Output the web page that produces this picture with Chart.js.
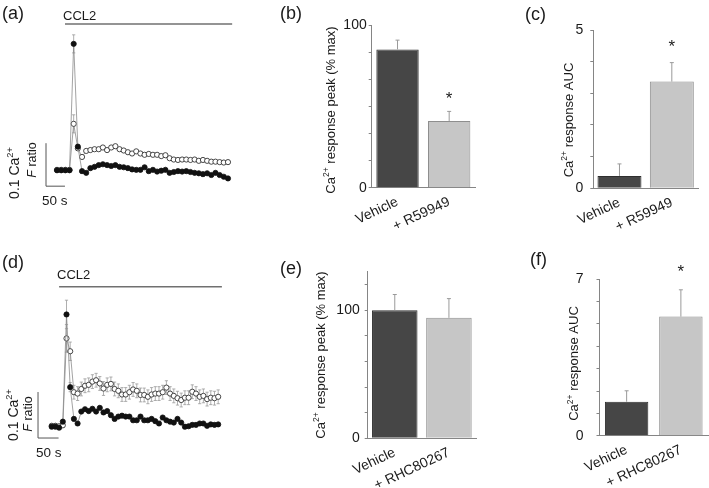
<!DOCTYPE html>
<html>
<head>
<meta charset="utf-8">
<script src="https://cdn.jsdelivr.net/npm/chart.js@4.4.1/dist/chart.umd.min.js"></script>
<style>
  body { margin: 0; background: #fff; width: 709px; height: 488px; position: relative; overflow: hidden; }
  canvas { position: absolute; }
</style>
</head>
<body>
<canvas id="pa" width="240" height="215" style="left:0px;top:0px"></canvas>
<canvas id="pb" width="200" height="240" style="left:280px;top:0px"></canvas>
<canvas id="pc" width="229" height="240" style="left:480px;top:0px"></canvas>
<canvas id="pd" width="240" height="248" style="left:0px;top:240px"></canvas>
<canvas id="pe" width="200" height="248" style="left:280px;top:240px"></canvas>
<canvas id="pf" width="229" height="248" style="left:480px;top:240px"></canvas>
<script>
const FONT = '"Liberation Sans", Arial, Helvetica, sans-serif';
Chart.defaults.font.family = FONT;

// ---- (a) Ca2+ trace, vehicle (filled) vs R59949 (open), F ratio change
const aStep = 11; // s per sample
const aVehicle = [0.004, 0.004, 0.004, 0.004, 0.298, 0.059, 0.002, -0.002, 0.009, 0.012,
  0.016, 0.018, 0.016, 0.014, 0.016, 0.012, 0.011, 0.009, 0.006, 0.005,
  0.005, 0.011, 0.002, 0.005, 0.001, 0.003, 0.005, -0.002, 0.000, 0.002,
  0.001, 0.002, 0.000, -0.002, -0.003, -0.005, -0.003, -0.007, -0.002, -0.007,
  -0.011, -0.015];
const aVehicleErr = [0.002, 0.002, 0.002, 0.002, 0.021, 0.005, 0.002, 0.002, 0.002, 0.002,
  0.002, 0.002, 0.002, 0.002, 0.002, 0.002, 0.002, 0.002, 0.002, 0.002,
  0.002, 0.002, 0.002, 0.002, 0.002, 0.002, 0.002, 0.002, 0.002, 0.002,
  0.002, 0.002, 0.002, 0.002, 0.002, 0.002, 0.002, 0.002, 0.002, 0.002,
  0.002, 0.002];
const aDrug = [0.005, 0.005, 0.005, 0.005, 0.112, 0.055, 0.035, 0.049, 0.051, 0.053,
  0.053, 0.057, 0.051, 0.057, 0.060, 0.053, 0.050, 0.046, 0.043, 0.048,
  0.043, 0.040, 0.042, 0.040, 0.040, 0.037, 0.039, 0.032, 0.029, 0.028,
  0.029, 0.029, 0.028, 0.029, 0.026, 0.028, 0.026, 0.024, 0.024, 0.023,
  0.022, 0.023];
const aDrugErr = [0.003, 0.003, 0.003, 0.003, 0.021, 0.005, 0.003, 0.003, 0.003, 0.003,
  0.003, 0.003, 0.003, 0.003, 0.003, 0.003, 0.003, 0.003, 0.003, 0.003,
  0.003, 0.003, 0.003, 0.003, 0.003, 0.003, 0.003, 0.003, 0.003, 0.003,
  0.003, 0.003, 0.003, 0.003, 0.003, 0.003, 0.003, 0.003, 0.003, 0.003,
  0.003, 0.003];

// ---- (d) Ca2+ trace, vehicle (filled) vs RHC80267 (open)
const dStep = 9;
const dVehicle = [0.000, 0.000, -0.002, 0.011, 0.244, 0.086, 0.017, 0.007, 0.033, 0.038,
  0.034, 0.039, 0.033, 0.041, 0.031, 0.034, 0.025, 0.017, 0.022, 0.024,
  0.022, 0.022, 0.014, 0.014, 0.022, 0.014, 0.014, 0.017, 0.012, 0.007,
  0.020, 0.014, 0.011, 0.009, 0.017, 0.009, 0.000, 0.001, 0.004, 0.004,
  0.007, 0.007, 0.002, 0.005, 0.004, 0.005];
const dVehicleErr = [0.004, 0.004, 0.004, 0.004, 0.031, 0.010, 0.004, 0.004, 0.004, 0.004,
  0.004, 0.004, 0.004, 0.004, 0.004, 0.004, 0.004, 0.004, 0.004, 0.004,
  0.004, 0.004, 0.004, 0.004, 0.004, 0.004, 0.004, 0.004, 0.004, 0.004,
  0.004, 0.004, 0.004, 0.004, 0.004, 0.004, 0.004, 0.004, 0.004, 0.004,
  0.004, 0.004, 0.004, 0.004, 0.004, 0.004];
const dDrug = [0.002, 0.002, 0.001, 0.003, 0.192, 0.164, 0.075, 0.072, 0.082, 0.089,
  0.091, 0.098, 0.101, 0.094, 0.083, 0.091, 0.093, 0.082, 0.078, 0.070,
  0.070, 0.075, 0.081, 0.078, 0.069, 0.069, 0.065, 0.070, 0.072, 0.072,
  0.075, 0.085, 0.072, 0.067, 0.062, 0.058, 0.063, 0.063, 0.076, 0.072,
  0.065, 0.067, 0.060, 0.063, 0.062, 0.065];
const dDrugErr = [0.004, 0.004, 0.004, 0.004, 0.030, 0.020, 0.015, 0.015, 0.015, 0.015,
  0.015, 0.015, 0.015, 0.015, 0.015, 0.015, 0.015, 0.015, 0.015, 0.015,
  0.015, 0.015, 0.015, 0.015, 0.015, 0.015, 0.015, 0.015, 0.015, 0.015,
  0.015, 0.015, 0.015, 0.015, 0.015, 0.015, 0.015, 0.015, 0.015, 0.015,
  0.015, 0.015, 0.015, 0.015, 0.015, 0.015];

// ---- bar panels
const bLabels = ['Vehicle', '+ R59949'];
const bValues = [85, 41];
const bErr = [5.7, 5.9];
const bSig = [false, true];
const bTicks = [0, 16.67, 33.33, 50, 66.67, 83.33, 100];
const bTickLabels = [0, 100];

const cLabels = ['Vehicle', '+ R59949'];
const cValues = [0.39, 3.37];
const cErr = [0.38, 0.6];
const cSig = [false, true];
const cTicks = [0, 1, 2, 3, 4, 5];
const cTickLabels = [0, 5];

const eLabels = ['Vehicle', '+ RHC80267'];
const eValues = [100, 94];
const eErr = [12.2, 15];
const eSig = [false, false];
const eTicks = [0, 20, 40, 60, 80, 100, 120];
const eTickLabels = [0, 100];

const fLabels = ['Vehicle', '+ RHC80267'];
const fValues = [1.52, 5.33];
const fErr = [0.49, 1.2];
const fSig = [false, true];
const fTicks = [0, 1, 2, 3, 4, 5, 6, 7];
const fTickLabels = [0, 7];

// text with superscript / italic pieces, vertically centred on y
function richText(ctx, parts, x, y, size, align) {
  const fontFor = k => (k === 'it' ? 'italic ' : '') + (k === 'sup' ? size * 0.66 : size) + 'px ' + FONT;
  let w = 0;
  parts.forEach(p => { ctx.font = fontFor(p[1]); w += ctx.measureText(p[0]).width; });
  let cx = align === 'center' ? x - w / 2 : x;
  ctx.textAlign = 'left';
  ctx.textBaseline = 'alphabetic';
  parts.forEach(p => {
    ctx.font = fontFor(p[1]);
    ctx.fillText(p[0], cx, y + size * 0.36 - (p[1] === 'sup' ? size * 0.4 : 0));
    cx += ctx.measureText(p[0]).width;
  });
}
function rotText(ctx, parts, x, y, size) {
  ctx.save();
  ctx.translate(x, y);
  ctx.rotate(-Math.PI / 2);
  richText(ctx, parts, 0, 0, size, 'center');
  ctx.restore();
}
const CA = [['Ca', ''], ['2+', 'sup']];

function tracePanel(id, o) {
  const pts = ys => ys.map((y, i) => ({ x: i * o.step, y: y }));
  const errPlugin = {
    id: 'traceExtras',
    beforeDatasetsDraw(chart) {
      const ctx = chart.ctx, ys = chart.scales.y;
      ctx.save();
      ctx.strokeStyle = '#9a9a9a';
      ctx.lineWidth = 0.8;
      chart.data.datasets.forEach((ds, di) => {
        chart.getDatasetMeta(di).data.forEach((pt, i) => {
          const v = ds.data[i].y, e = ds.err[i];
          const y1 = ys.getPixelForValue(v + e), y2 = ys.getPixelForValue(v - e);
          ctx.beginPath();
          ctx.moveTo(pt.x, y1); ctx.lineTo(pt.x, y2);
          ctx.moveTo(pt.x - 1.6, y1); ctx.lineTo(pt.x + 1.6, y1);
          ctx.moveTo(pt.x - 1.6, y2); ctx.lineTo(pt.x + 1.6, y2);
          ctx.stroke();
        });
      });
      ctx.restore();
    },
    afterDraw(chart) {
      const ctx = chart.ctx, xs = chart.scales.x, ys = chart.scales.y;
      ctx.save();
      // CCL2 application bar
      ctx.strokeStyle = '#707070';
      ctx.lineWidth = 1.5;
      const cy = ys.getPixelForValue(o.ccl2Y);
      ctx.beginPath();
      ctx.moveTo(xs.getPixelForValue(o.ccl2[0]), cy);
      ctx.lineTo(xs.getPixelForValue(o.ccl2[1]), cy);
      ctx.stroke();
      // scale bar 50 s x 0.1 ratio
      const x0 = xs.getPixelForValue(o.bar[0]), y0 = ys.getPixelForValue(o.bar[1]);
      const x1 = xs.getPixelForValue(o.bar[0] + 50), y1 = ys.getPixelForValue(o.bar[1] + 0.1);
      ctx.strokeStyle = '#555';
      ctx.lineWidth = 1;
      ctx.beginPath();
      ctx.moveTo(x0, y1); ctx.lineTo(x0, y0); ctx.lineTo(x1, y0);
      ctx.stroke();
      ctx.fillStyle = '#1a1a1a';
      richText(ctx, [[o.letter, '']], o.letterPos[0], o.letterPos[1], 18, 'left');
      richText(ctx, [['CCL2', '']], o.ccl2Text[0], o.ccl2Text[1], 13, 'left');
      richText(ctx, [['50 s', '']], o.secText[0], o.secText[1], 13.5, 'left');
      rotText(ctx, [['0.1 ', '']].concat(CA), o.caText[0], o.caText[1], 14);
      rotText(ctx, [['F', 'it'], [' ratio', '']], o.fText[0], o.fText[1], 12.5);
      ctx.restore();
    }
  };
  new Chart(document.getElementById(id), {
    type: 'line',
    data: {
      datasets: [
        { data: pts(o.vehicle), err: o.vehicleErr, borderColor: '#8c8c8c', borderWidth: 0.8,
          pointRadius: 2.6, pointBackgroundColor: '#111', pointBorderColor: '#111', pointBorderWidth: 0.8, clip: false },
        { data: pts(o.drug), err: o.drugErr, borderColor: '#8c8c8c', borderWidth: 0.8,
          pointRadius: 2.6, pointBackgroundColor: '#fff', pointBorderColor: '#333', pointBorderWidth: 0.9, clip: false }
      ]
    },
    options: {
      responsive: false, animation: false,
      layout: { padding: o.pad },
      plugins: { legend: { display: false }, tooltip: { enabled: false } },
      scales: {
        x: { type: 'linear', display: false, min: o.xMin, max: o.xMax },
        y: { display: false, min: o.yMin, max: o.yMax }
      }
    },
    plugins: [errPlugin]
  });
}

function barPanel(id, o) {
  const extras = {
    id: 'barExtras',
    afterDatasetsDraw(chart) {
      const ctx = chart.ctx, ys = chart.scales.y;
      ctx.save();
      ctx.strokeStyle = '#9a9a9a';
      ctx.lineWidth = 1;
      chart.getDatasetMeta(0).data.forEach((bar, i) => {
        const top = ys.getPixelForValue(o.values[i]);
        const et = ys.getPixelForValue(o.values[i] + o.err[i]);
        ctx.beginPath();
        ctx.moveTo(bar.x, top); ctx.lineTo(bar.x, et);
        ctx.moveTo(bar.x - 2, et); ctx.lineTo(bar.x + 2, et);
        ctx.stroke();
        if (o.sig[i]) {
          ctx.fillStyle = '#1a1a1a';
          ctx.font = '17px ' + FONT;
          ctx.textAlign = 'center';
          ctx.textBaseline = 'alphabetic';
          ctx.fillText('*', bar.x, et - o.starGap + 9);
        }
      });
      ctx.fillStyle = '#1a1a1a';
      richText(ctx, [[o.letter, '']], o.letterPos[0], o.letterPos[1], 18, 'left');
      rotText(ctx, CA.concat([[o.title, '']]), o.titlePos[0], o.titlePos[1], 13);
      ctx.restore();
    }
  };
  new Chart(document.getElementById(id), {
    type: 'bar',
    data: {
      labels: o.labels,
      datasets: [{
        data: o.values,
        backgroundColor: ['#464646', '#c6c6c6'],
        borderColor: ['#2e2e2e', '#8e8e8e'],
        borderWidth: 1,
        barPercentage: o.barPct,
        categoryPercentage: 1
      }]
    },
    options: {
      responsive: false, animation: false,
      layout: { padding: { left: 0, right: o.padRight, top: o.top, bottom: 0 } },
      plugins: { legend: { display: false }, tooltip: { enabled: false } },
      scales: {
        x: {
          grid: { display: false, drawTicks: false },
          border: { color: '#858585', width: 1 },
          ticks: { minRotation: 25, maxRotation: 25, padding: o.xPad, color: '#1a1a1a', font: { size: 14 } },
          afterFit: s => { s.height = o.xH; }
        },
        y: {
          min: 0, max: o.max,
          afterBuildTicks: s => { s.ticks = o.ticks.map(v => ({ value: v })); },
          grid: { drawOnChartArea: false, drawTicks: true, tickLength: 3, tickColor: '#858585' },
          border: { color: '#858585', width: 1 },
          ticks: { padding: o.yPad, color: '#1a1a1a', font: { size: 14 },
            callback: v => o.tickLabels.includes(v) ? String(v) : '' },
          afterFit: s => { s.width = o.yW; }
        }
      }
    },
    plugins: [extras]
  });
}

tracePanel('pa', {
  step: aStep, vehicle: aVehicle, vehicleErr: aVehicleErr, drug: aDrug, drugErr: aDrugErr,
  pad: { left: 40, right: 5, top: 20, bottom: 20 },
  xMin: -44.85, xMax: 469.5, yMin: -0.0535, yMax: 0.3535,
  ccl2: [21, 462], ccl2Y: 0.344, bar: [-29, -0.033],
  letter: '(a)', letterPos: [2, 12.5], ccl2Text: [63, 15], secText: [42, 200],
  caText: [13.5, 173], fText: [31, 160]
});
tracePanel('pd', {
  step: dStep, vehicle: dVehicle, vehicleErr: dVehicleErr, drug: dDrug, drugErr: dDrugErr,
  pad: { left: 30, right: 5, top: 40, bottom: 33 },
  xMin: -52.8, xMax: 445.9, yMin: -0.0615, yMax: 0.3189,
  ccl2: [18, 414], ccl2Y: 0.3043, bar: [-33.3, -0.0246],
  letter: '(d)', letterPos: [2, 22], ccl2Text: [57, 34], secText: [36, 212.5],
  caText: [12.5, 175], fText: [27, 174]
});

barPanel('pb', {
  labels: bLabels, values: bValues, err: bErr, sig: bSig, ticks: bTicks, tickLabels: bTickLabels, max: 100,
  title: ' response peak (% max)', letter: '(b)', letterPos: [0, 12.5], titlePos: [50, 110],
  yW: 91.7, padRight: 5, top: 25, xH: 52.3, barPct: 0.82, yPad: 2, xPad: 6, starGap: 16
});
barPanel('pc', {
  labels: cLabels, values: cValues, err: cErr, sig: cSig, ticks: cTicks, tickLabels: cTickLabels, max: 5,
  title: ' response AUC', letter: '(c)', letterPos: [45, 13.3], titlePos: [88, 120],
  yW: 113.3, padRight: 11, top: 30, xH: 51.7, barPct: 0.84, yPad: 7, xPad: 6, starGap: 20
});
barPanel('pe', {
  labels: eLabels, values: eValues, err: eErr, sig: eSig, ticks: eTicks, tickLabels: eTickLabels, max: 130,
  title: ' response peak (% max)', letter: '(e)', letterPos: [0, 27.5], titlePos: [40, 115],
  yW: 87.7, padRight: 4, top: 31.7, xH: 49.7, barPct: 0.84, yPad: 5, xPad: 6, starGap: 20
});
barPanel('pf', {
  labels: fLabels, values: fValues, err: fErr, sig: fSig, ticks: fTicks, tickLabels: fTickLabels, max: 7,
  title: ' response AUC', letter: '(f)', letterPos: [50, 19], titlePos: [93.3, 123.5],
  yW: 119.5, padRight: 1, top: 39.3, xH: 52.3, barPct: 0.8, yPad: 13, xPad: 6, starGap: 21.7
});
</script>
</body>
</html>
